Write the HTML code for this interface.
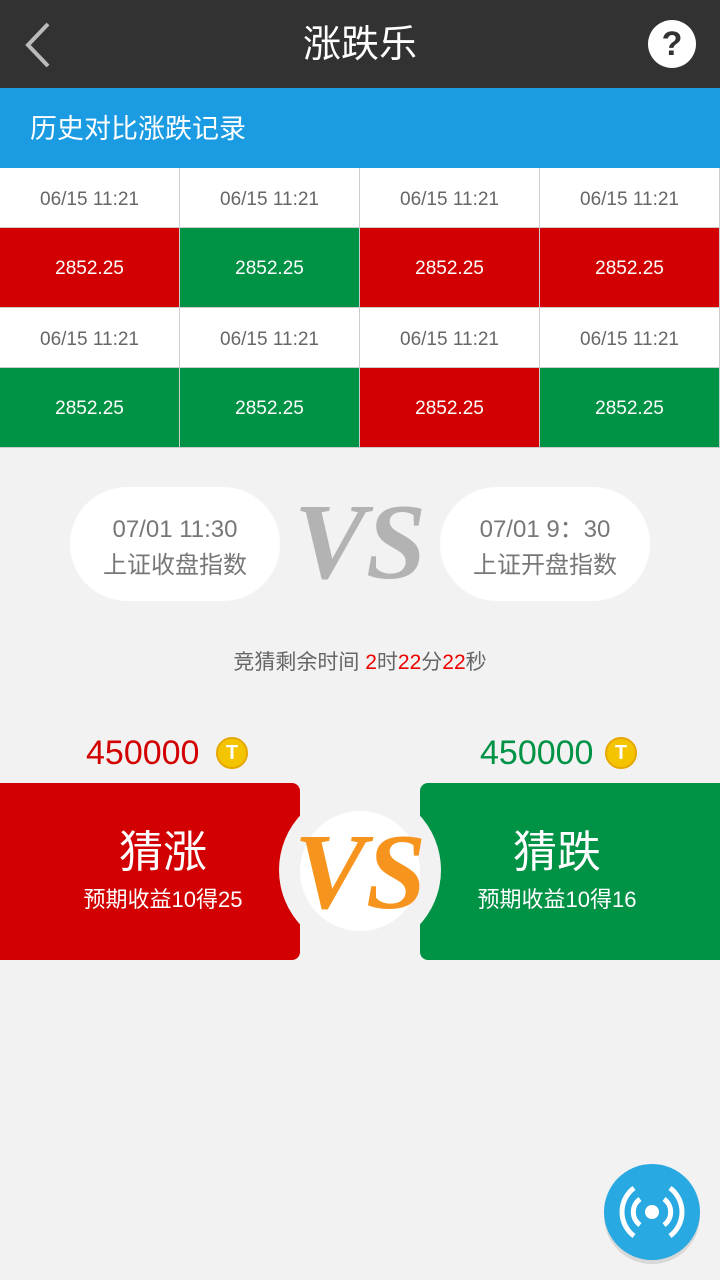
<!DOCTYPE html>
<html><head><meta charset="utf-8"><style>
*{margin:0;padding:0;box-sizing:border-box}
body{width:720px;height:1280px;background:#f2f2f2;font-family:"Liberation Sans","Noto Sans CJK SC",sans-serif;position:relative;overflow:hidden}
.abs{position:absolute}
.hdr{left:0;top:0;width:720px;height:88px;background:#323232}
.title{left:0;width:720px;top:19px;text-align:center;color:#fff;font-size:38px;line-height:52px}
.sub{left:0;top:88px;width:720px;height:80px;background:#1a9be2;color:#fff;font-size:27px;line-height:82px;padding-left:30px}
.grid{left:0;top:168px;width:720px}
.cell{position:absolute;width:180px;border-right:1px solid #ccc;border-bottom:1px solid #ccc;text-align:center;font-size:19px}
.d{height:60px;line-height:64px;background:#fff;color:#666}
.v{height:80px;line-height:82px;color:#fff}
.r{background:#d20000}.g{background:#009245}
.pill{top:487px;width:210px;height:114px;border-radius:57px;background:#fff;color:#777;font-size:24px;text-align:center;padding-top:25px;line-height:36px}
.vs{font-family:"Liberation Serif",serif;font-style:italic;font-weight:bold}
</style></head><body>
<div class="abs hdr"></div>
<svg class="abs" style="left:20px;top:20px" width="36" height="50"><polyline points="28,4 8,25 28,46" fill="none" stroke="#bbb" stroke-width="4"/></svg>
<div class="abs title">涨跌乐</div>
<div class="abs" style="left:648px;top:20px;width:48px;height:48px;border-radius:50%;background:#fff;color:#323232;font-weight:bold;font-size:34px;text-align:center;line-height:48px">?</div>
<div class="abs sub">历史对比涨跌记录</div>
<div class="abs grid" id="grid"></div>
<div class="abs pill" style="left:70px">07/01 11:30<br>上证收盘指数</div>
<div class="abs pill" style="left:440px">07/01 9：30<br>上证开盘指数</div>
<div class="abs vs" style="left:290px;top:488px;width:140px;text-align:center;font-size:108px;line-height:110px;color:#b3b3b3">VS</div>
<div class="abs" style="left:0;width:720px;top:648px;text-align:center;font-size:21px;color:#666;line-height:30px">竞猜剩余时间 <span style="color:#e00">2</span>时<span style="color:#e00">22</span>分<span style="color:#e00">22</span>秒</div>
<div class="abs" style="left:86px;top:732px;font-size:34px;color:#d20000;line-height:42px">450000</div>
<div class="abs" style="left:216px;top:737px;width:32px;height:32px;border-radius:50%;background:#f5c400;border:2px solid #e6a800;color:#fff;font-weight:bold;text-align:center;line-height:28px;font-size:20px">T</div>
<div class="abs" style="left:480px;top:732px;font-size:34px;color:#009245;line-height:42px">450000</div>
<div class="abs" style="left:605px;top:737px;width:32px;height:32px;border-radius:50%;background:#f5c400;border:2px solid #e6a800;color:#fff;font-weight:bold;text-align:center;line-height:28px;font-size:20px">T</div>
<div class="abs" style="left:0;top:783px;width:300px;height:177px;background:#d20000;border-radius:0 8px 8px 0;color:#fff;text-align:center;padding-left:26px">
<div style="font-size:44px;margin-top:42px;line-height:56px">猜涨</div><div style="font-size:22px;line-height:38px">预期收益10得25</div></div>
<div class="abs" style="left:420px;top:783px;width:300px;height:177px;background:#009245;border-radius:8px 0 0 8px;color:#fff;text-align:center;padding-right:26px">
<div style="font-size:44px;margin-top:42px;line-height:56px">猜跌</div><div style="font-size:22px;line-height:38px">预期收益10得16</div></div>
<div class="abs" style="left:279px;top:789px;width:162px;height:162px;border-radius:50%;background:#f2f2f2"></div>
<div class="abs" style="left:300px;top:811px;width:120px;height:120px;border-radius:50%;background:#fff"></div>
<div class="abs vs" style="left:285px;top:818px;width:150px;text-align:center;font-size:108px;line-height:110px;color:#f7941d">VS</div>
<div class="abs" style="left:604px;top:1168px;width:96px;height:96px;border-radius:50%;background:#d8d8d8"></div>
<svg class="abs" style="left:604px;top:1164px" width="96" height="96">
<circle cx="48" cy="48" r="48" fill="#29a9e1"/>
<circle cx="48" cy="48" r="7" fill="#fff"/>
<g fill="none" stroke="#fff" stroke-width="5">
<path d="M36 35 A16 16 0 0 0 36 61"/><path d="M60 35 A16 16 0 0 1 60 61"/>
<path d="M30 24 A30 30 0 0 0 30 72"/><path d="M66 24 A30 30 0 0 1 66 72"/></g></svg>
<script>
const dates=["06/15 11:21","06/15 11:21","06/15 11:21","06/15 11:21","06/15 11:21","06/15 11:21","06/15 11:21","06/15 11:21"];
const values=["2852.25","2852.25","2852.25","2852.25","2852.25","2852.25","2852.25","2852.25"];
const trends=["r","g","r","r","g","g","r","g"];
const g=document.getElementById('grid');
for(let i=0;i<8;i++){
 const row=Math.floor(i/4),col=i%4,top=row*140;
 const d=document.createElement('div');d.className='cell d';d.style.left=col*180+'px';d.style.top=top+'px';d.textContent=dates[i];
 
 
 const v=document.createElement('div');v.className='cell v '+trends[i];v.style.left=col*180+'px';v.style.top=(top+60)+'px';v.textContent=values[i];
 
 
 g.appendChild(d);g.appendChild(v);
}
</script>
</body></html>
